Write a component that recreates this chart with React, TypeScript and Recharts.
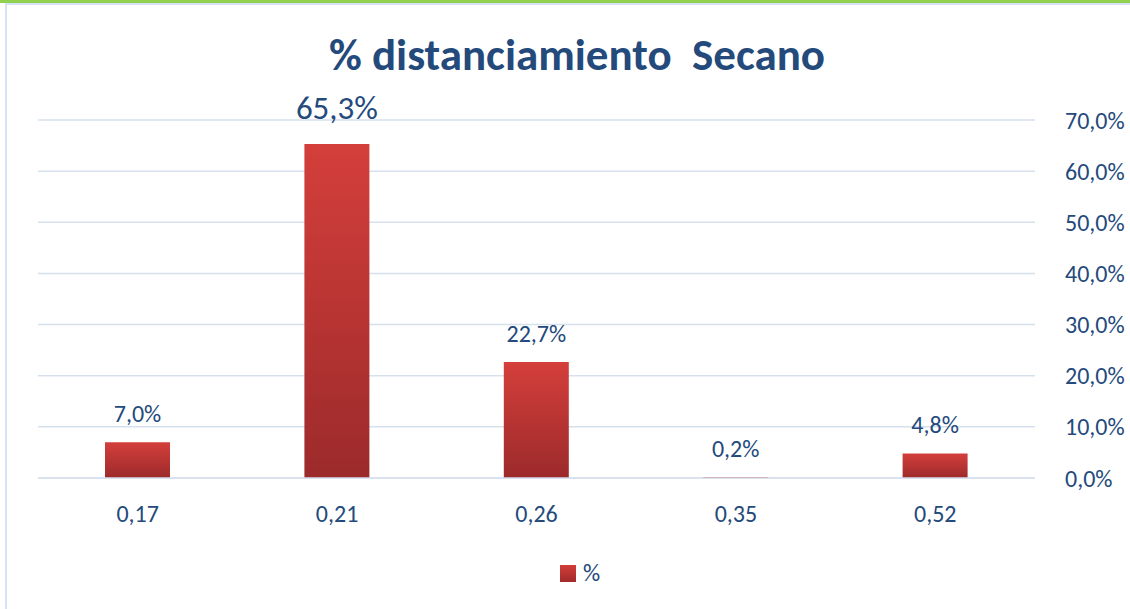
import React from 'react';
import { BarChart, Bar, XAxis, YAxis, CartesianGrid, Legend, LabelList } from 'recharts';

const categories = ['0,17', '0,21', '0,26', '0,35', '0,52'];
const values = [7.0, 65.3, 22.7, 0.2, 4.8];
const yTicks = [0, 10, 20, 30, 40, 50, 60, 70];
const seriesName = '%';
const title = '% distanciamiento  Secano';

const data = categories.map((c, i) => ({ cat: c, v: values[i] }));

const FONT = 'Carlito, Calibri, Lato, sans-serif';
const BLUE = '#244a7c';
const GRID = '#d7e1ee';

const fmt = (v: number) => v.toFixed(1).replace('.', ',') + '%';

const renderLabel = (props: any) => {
  const { x, y, width, value, index } = props;
  const big = index === 1;
  return (
    <text
      x={x + width / 2}
      y={y - (big ? 25 : 20)}
      textAnchor="middle"
      fill={BLUE}
      fontFamily={FONT}
      fontSize={big ? 33 : 24}
    >
      {fmt(value)}
    </text>
  );
};

const renderLegend = () => (
  <div style={{ display: 'flex', justifyContent: 'center', alignItems: 'center', paddingLeft: 30, fontFamily: FONT, color: BLUE, fontSize: 24, lineHeight: 1 }}>
    <svg width={16} height={17} style={{ marginRight: 7 }}>
      <defs>
        <linearGradient id="lg" x1="0" y1="0" x2="0" y2="1">
          <stop offset="0%" stopColor="#d23d39" />
          <stop offset="100%" stopColor="#a02b2b" />
        </linearGradient>
      </defs>
      <rect x={0} y={0} width={16} height={17} fill="url(#lg)" />
    </svg>
    <span>{seriesName}</span>
  </div>
);

export default function App() {
  return (
    <div style={{ position: 'absolute', left: 0, top: 0, width: 1130, height: 609, background: '#fff', overflow: 'hidden' }}>
      <div style={{ position: 'absolute', left: 0, top: 0, width: 1130, height: 3, background: '#92d050' }} />
      <div style={{ position: 'absolute', left: 5, top: 3, width: 1125, height: 2, background: '#d6e3f3' }} />
      <div style={{ position: 'absolute', left: 5, top: 3, width: 2, height: 606, background: '#d6e3f3' }} />
      <div style={{ position: 'absolute', left: 0, top: 32, width: 1130, textAlign: 'center', paddingLeft: 24, boxSizing: 'border-box', fontFamily: FONT, fontWeight: 700, fontSize: 45, lineHeight: 1, color: BLUE, whiteSpace: 'pre' }}>
        {title}
      </div>
      <div style={{ position: 'absolute', left: 0, top: 0 }}>
        <BarChart width={1130} height={609} data={data} margin={{ top: 120, right: 0, left: 38, bottom: 41 }} barCategoryGap={0}>
          <defs>
            <linearGradient id="barGrad" x1="0" y1="0" x2="0" y2="1">
              <stop offset="0%" stopColor="#d43f3b" />
              <stop offset="100%" stopColor="#9c2a2b" />
            </linearGradient>
          </defs>
          <CartesianGrid vertical={false} stroke={GRID} strokeWidth={1.5} />
          <XAxis
            dataKey="cat"
            axisLine={{ stroke: GRID, strokeWidth: 1.5 }}
            tickLine={false}
            tickSize={0}
            tickMargin={27}
            height={50}
            tick={{ fill: BLUE, fontFamily: FONT, fontSize: 24 }}
          />
          <YAxis
            orientation="right"
            domain={[0, 70]}
            ticks={yTicks}
            tickFormatter={fmt}
            axisLine={false}
            tickLine={false}
            tickSize={0}
            tickMargin={30}
            width={95}
            tick={{ fill: BLUE, fontFamily: FONT, fontSize: 24, textAnchor: 'start' }}
          />
          <Legend verticalAlign="bottom" height={40} content={renderLegend} wrapperStyle={{ top: 561, left: 0, width: 1130 }} />
          <Bar dataKey="v" name={seriesName} fill="url(#barGrad)" barSize={65} isAnimationActive={false}>
            <LabelList dataKey="v" content={renderLabel} />
          </Bar>
        </BarChart>
      </div>
    </div>
  );
}
